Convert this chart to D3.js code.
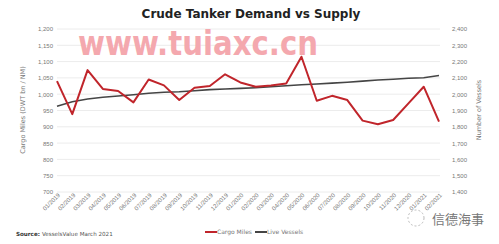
<!DOCTYPE html>
<html>

<head>
    <title>Crude Tanker Demand vs Supply</title>
    <script src="https://d3js.org/d3.v7.min.js"></script>
    <style>
        body {
            margin: 0;
            background: #fff;
            font-family: "DejaVu Sans", Verdana, sans-serif;
        }

        .tick text {
            fill: #777;
            font-size: 6px;
        }

        .grid line {
            stroke: #ececec;
        }
    </style>
</head>

<body>
    <div id="chart"></div>

    <script>
        const months = ["01/2019", "02/2019", "03/2019", "04/2019", "05/2019", "06/2019", "07/2019", "08/2019",
            "09/2019", "10/2019", "11/2019", "12/2019", "01/2020", "02/2020", "03/2020", "04/2020", "05/2020",
            "06/2020", "07/2020", "08/2020", "09/2020", "10/2020", "11/2020", "12/2020", "01/2021", "02/2021"];
        const cargoMiles = [1040, 939, 1074, 1016, 1010, 975, 1045, 1027, 982, 1020, 1025, 1061, 1036,
            1023, 1027, 1033, 1115, 980, 995, 982, 919, 908, 921, 972, 1023, 916];
        const liveVessels = [1926, 1954, 1971, 1981, 1989, 1997, 2006, 2012, 2015, 2021, 2028, 2032, 2036,
            2040, 2046, 2052, 2058, 2063, 2068, 2073, 2080, 2087, 2092, 2098, 2101, 2115];
        const leftTicks = [700, 750, 800, 850, 900, 950, 1000, 1050, 1100, 1150, 1200];
        const rightTicks = [1400, 1500, 1600, 1700, 1800, 1900, 2000, 2100, 2200, 2300, 2400];

        const width = 499, height = 244;
        const plot = { left: 57, right: 439, top: 29, bottom: 192 };

        const svg = d3.select("#chart").append("svg")
            .attr("width", width)
            .attr("height", height);

        const x = d3.scalePoint().domain(months).range([plot.left, plot.right]);
        const yL = d3.scaleLinear().domain([700, 1200]).range([plot.bottom, plot.top]);
        const yR = d3.scaleLinear().domain([1400, 2400]).range([plot.bottom, plot.top]);

        // gridlines
        svg.append("g").attr("class", "grid")
            .selectAll("line").data(leftTicks).join("line")
            .attr("x1", plot.left).attr("x2", plot.right + 1)
            .attr("y1", d => yL(d)).attr("y2", d => yL(d));

        // watermark
        svg.append("text")
            .attr("x", 78).attr("y", 55)
            .attr("fill", "#f4a8ae")
            .attr("textLength", 240)
            .attr("lengthAdjust", "spacingAndGlyphs")
            .style("font-size", "33px")
            .style("font-weight", "bold")
            .text("www.tuiaxc.cn");

        // title
        svg.append("text")
            .attr("x", 251).attr("y", 18)
            .attr("text-anchor", "middle")
            .attr("fill", "#222")
            .style("font-size", "12px")
            .style("font-weight", "bold")
            .text("Crude Tanker Demand vs Supply");

        const fmt = d3.format(",");

        svg.append("g")
            .attr("transform", `translate(${plot.left - 4},0)`)
            .call(d3.axisLeft(yL).tickValues(leftTicks).tickFormat(fmt).tickSize(0).tickPadding(0))
            .call(g => g.select(".domain").remove());

        svg.append("g")
            .attr("transform", `translate(${plot.right + 13},0)`)
            .call(d3.axisRight(yR).tickValues(rightTicks).tickFormat(fmt).tickSize(0).tickPadding(0))
            .call(g => g.select(".domain").remove());

        svg.append("g")
            .attr("transform", `translate(0,${plot.bottom + 4})`)
            .call(d3.axisBottom(x).tickSize(0).tickPadding(0))
            .call(g => g.select(".domain").remove())
            .selectAll("text")
            .style("text-anchor", "end")
            .attr("dx", "0.4em")
            .attr("dy", "0.3em")
            .attr("y", 0)
            .attr("transform", "rotate(-45)");

        // axis titles
        svg.append("text")
            .attr("transform", "translate(25,110) rotate(-90)")
            .attr("text-anchor", "middle")
            .attr("fill", "#777")
            .style("font-size", "6.5px")
            .text("Cargo Miles (DWT bn / NM)");

        svg.append("text")
            .attr("transform", "translate(481,110) rotate(-90)")
            .attr("text-anchor", "middle")
            .attr("fill", "#777")
            .style("font-size", "6.5px")
            .text("Number of Vessels");

        // lines
        svg.append("path")
            .datum(liveVessels)
            .attr("fill", "none")
            .attr("stroke", "#454545")
            .attr("stroke-width", 1.6)
            .attr("d", d3.line().x((d, i) => x(months[i])).y(d => yR(d)));

        svg.append("path")
            .datum(cargoMiles)
            .attr("fill", "none")
            .attr("stroke", "#c0252b")
            .attr("stroke-width", 2)
            .attr("stroke-linejoin", "round")
            .attr("d", d3.line().x((d, i) => x(months[i])).y(d => yL(d)));

        // legend
        const legend = [["Cargo Miles", "#c0252b"], ["Live Vessels", "#454545"]];
        const lg = svg.append("g").attr("transform", "translate(205,232)");
        legend.forEach((l, i) => {
            const g = lg.append("g").attr("transform", `translate(${i * 50},0)`);
            g.append("line").attr("x1", 0).attr("x2", 12).attr("y1", 0).attr("y2", 0)
                .attr("stroke", l[1]).attr("stroke-width", 2);
            g.append("text").attr("x", 12).attr("y", 2.2)
                .attr("fill", "#777").style("font-size", "6px").text(l[0]);
        });

        // source
        const src = svg.append("text")
            .attr("x", 16).attr("y", 236)
            .attr("fill", "#555")
            .style("font-size", "5.6px");
        src.append("tspan").style("font-weight", "bold").attr("fill", "#333").text("Source: ");
        src.append("tspan").text("VesselsValue March 2021");

        // wechat watermark
        svg.append("circle")
            .attr("cx", 416).attr("cy", 218).attr("r", 8)
            .attr("fill", "none").attr("stroke", "#bbb").attr("stroke-dasharray", "2,2");
        svg.append("text")
            .attr("x", 432).attr("y", 224)
            .attr("fill", "#777")
            .style("font-size", "13px")
            .style("font-family", "'Noto Sans CJK SC', sans-serif")
            .text("信德海事");
    </script>
</body>

</html>
